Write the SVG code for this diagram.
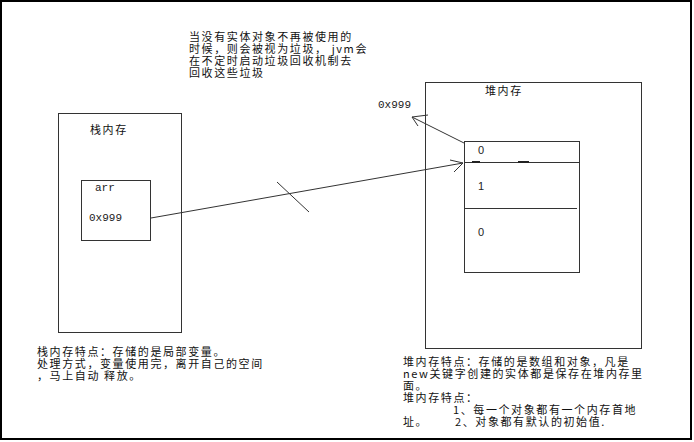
<svg xmlns="http://www.w3.org/2000/svg" width="694" height="442" viewBox="0 0 694 442">
<style>
.box{fill:none;stroke:#333;stroke-width:1}
.ln{stroke:#333;stroke-width:1;fill:none}
.cn{font-family:"Noto Sans CJK SC","Noto Sans",sans-serif;font-size:11px;letter-spacing:1.6px;fill:#111}
.mono{font-family:"Liberation Mono",monospace;font-size:11px;fill:#222}
.num{font-family:"Liberation Sans",sans-serif;font-size:11px;fill:#222}
</style>
<rect x="0" y="0" width="694" height="442" fill="#fff"/>
<rect x="1" y="1" width="690" height="438" fill="none" stroke="#000" stroke-width="2"/>

<g id="gc-note">
<text class="cn"><tspan x="189" y="41">当没有实体对象不再被使用的</tspan><tspan x="189" y="53">时候，则会被视为垃圾， jvm会</tspan><tspan x="189" y="65">在不定时启动垃圾回收机制去</tspan><tspan x="189" y="77">回收这些垃圾</tspan></text>
</g>

<g id="stack">
<rect class="box" x="58.5" y="113.5" width="123" height="219"/>
<text class="cn" x="90" y="134">栈内存</text>
</g>

<g id="arr">
<rect class="box" x="81.5" y="180.5" width="69" height="60"/>
<text class="mono" x="95" y="191">arr</text>
<text class="mono" x="89" y="221">0x999</text>
</g>

<g id="heap">
<rect class="box" x="425.5" y="82.5" width="216" height="266"/>
<text class="cn" x="485" y="95">堆内存</text>
</g>

<g id="array">
<rect class="box" x="464.5" y="141.5" width="115" height="131"/>
<line class="ln" x1="464" y1="162.5" x2="580" y2="162.5"/>
<line x1="472" y1="162" x2="480" y2="162" stroke="#222" stroke-width="2"/>
<line x1="518" y1="162" x2="529" y2="162" stroke="#222" stroke-width="2"/>
<line class="ln" x1="464" y1="208.5" x2="577" y2="208.5"/>
<text class="num" x="478" y="154">0</text>
<text class="num" x="478" y="190">1</text>
<text class="num" x="478" y="236">0</text>
</g>

<g id="address-label">
<text class="mono" x="378" y="108">0x999</text>
</g>

<g id="connectors">
<path class="ln" d="M151 218 L463 163"/>
<path class="ln" d="M450 160 L463 163 L454 172"/>
<path class="ln" d="M277 182 L309 212"/>
<path class="ln" d="M464 143 L412 117"/>
<path class="ln" d="M428 115 L412 117 L418 126"/>
</g>

<g id="stack-note">
<text class="cn"><tspan x="37" y="356">栈内存特点：存储的是局部变量。</tspan><tspan x="37" y="368">处理方式，变量使用完，离开自己的空间</tspan><tspan x="37" y="380">，马上自动 释放。</tspan></text>
</g>

<g id="heap-note">
<text class="cn"><tspan x="403" y="366">堆内存特点：存储的是数组和对象，凡是</tspan><tspan x="403" y="378">new关键字创建的实体都是保存在堆内存里</tspan><tspan x="403" y="390">面。</tspan><tspan x="403" y="402">堆内存特点：</tspan><tspan x="453" y="414">1、每一个对象都有一个内存首地</tspan><tspan x="403" y="426">址。</tspan><tspan x="455" y="426">2、对象都有默认的初始值.</tspan></text>
</g>
</svg>
